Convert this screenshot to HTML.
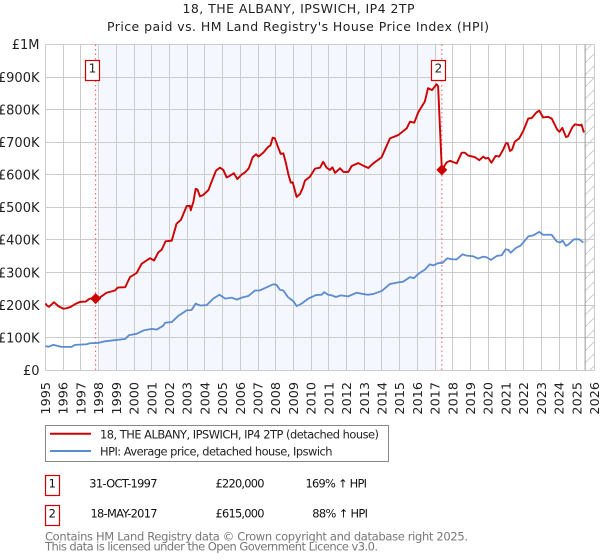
<!DOCTYPE html>
<html lang="en">
<head>
<meta charset="utf-8">
<title>18, THE ALBANY, IPSWICH, IP4 2TP</title>
<style>
html,body{margin:0;padding:0;background:#fff;}
svg{display:block;font-family:"DejaVu Sans","Liberation Sans",sans-serif;}
</style>
</head>
<body>
<svg id="chart" xmlns="http://www.w3.org/2000/svg" width="600" height="560" viewBox="0 0 600 560">
  <defs>
    <pattern id="hatch" patternUnits="userSpaceOnUse" width="12" height="12">
      <path d="M-1 13 L13 -1" stroke="#ccc" stroke-width="1" fill="none"/>
    </pattern>
  </defs>
  <rect width="600" height="560" fill="#fff"/>
  <text x="298.5" y="13" text-anchor="middle" font-size="12.5" fill="#222" textLength="232" lengthAdjust="spacing">18, THE ALBANY, IPSWICH, IP4 2TP</text>
  <text x="298" y="31" text-anchor="middle" font-size="12.5" fill="#222" textLength="382" lengthAdjust="spacing">Price paid vs. HM Land Registry's House Price Index (HPI)</text>

  <g id="back"></g>
  <g id="grid"></g>
  <g id="axes"></g>
  <g id="series"></g>
  <g id="markers"></g>

  <g>
    <rect x="45.5" y="425.5" width="343" height="36" fill="#fff" stroke="#888" stroke-width="1"/>
    <line x1="50" x2="91" y1="433.7" y2="433.7" stroke="#cc0000" stroke-width="2"/>
    <text x="100" y="438.5" font-size="11.4" fill="#222" textLength="279" lengthAdjust="spacing">18, THE ALBANY, IPSWICH, IP4 2TP (detached house)</text>
    <line x1="50" x2="91" y1="451" y2="451" stroke="#5b8bd0" stroke-width="2"/>
    <text x="100" y="455.5" font-size="11.4" fill="#222" textLength="232.5" lengthAdjust="spacing">HPI: Average price, detached house, Ipswich</text>
  </g>

  <g font-size="11.4" fill="#111">
    <rect x="45.5" y="475.5" width="14" height="20" fill="#fff" stroke="#cc0000" stroke-width="1.2"/>
    <text x="52.3" y="487.5" text-anchor="middle">1</text>
    <text x="89.3" y="487.5" textLength="68.2" lengthAdjust="spacing">31-OCT-1997</text>
    <text x="215.5" y="487.5" textLength="49" lengthAdjust="spacing">£220,000</text>
    <text x="305.5" y="487.5" textLength="61.5" lengthAdjust="spacing">169% ↑ HPI</text>
  </g>
  <g font-size="11.4" fill="#111">
    <rect x="45.5" y="505.5" width="14" height="20" fill="#fff" stroke="#cc0000" stroke-width="1.2"/>
    <text x="52.3" y="517.5" text-anchor="middle">2</text>
    <text x="90.5" y="517.5" textLength="67" lengthAdjust="spacing">18-MAY-2017</text>
    <text x="215.5" y="517.5" textLength="49" lengthAdjust="spacing">£615,000</text>
    <text x="312.3" y="517.5" textLength="55.7" lengthAdjust="spacing">88% ↑ HPI</text>
  </g>

  <text x="45" y="540.5" font-size="11.5" fill="#777" textLength="423" lengthAdjust="spacing">Contains HM Land Registry data © Crown copyright and database right 2025.</text>
  <text x="45" y="550.5" font-size="11.5" fill="#777" textLength="333" lengthAdjust="spacing">This data is licensed under the Open Government Licence v3.0.</text>
</svg>
<script>
const yearTicks = [1995,1996,1997,1998,1999,2000,2001,2002,2003,2004,2005,2006,2007,2008,2009,2010,2011,2012,2013,2014,2015,2016,2017,2018,2019,2020,2021,2022,2023,2024,2025,2026];
const priceTicks = [0,100,200,300,400,500,600,700,800,900,1000];
const priceTickLabels = ["£0","£100K","£200K","£300K","£400K","£500K","£600K","£700K","£800K","£900K","£1M"];

const priceDates = [1995,1995.1,1995.2,1995.48,1995.72,1996,1996.15,1996.4,1996.67,1996.95,1997.27,1997.5,1997.83,1998.08,1998.45,1998.92,1999.08,1999.5,1999.77,2000.15,2000.43,2000.9,2001.13,2001.37,2001.56,2001.78,2002.13,2002.4,2002.65,2002.97,2003.16,2003.2,2003.35,2003.48,2003.58,2003.72,2003.9,2004.2,2004.38,2004.63,2004.85,2005.04,2005.23,2005.38,2005.64,2005.83,2006.08,2006.26,2006.48,2006.7,2006.89,2007.02,2007.3,2007.58,2007.7,2007.83,2007.95,2008.09,2008.28,2008.43,2008.58,2008.72,2008.85,2008.96,2009.18,2009.37,2009.52,2009.65,2009.93,2010.22,2010.5,2010.68,2010.87,2011.06,2011.2,2011.35,2011.63,2011.82,2012.1,2012.29,2012.66,2012.95,2013.23,2013.5,2013.98,2014.45,2014.92,2015.4,2015.58,2015.82,2016.05,2016.42,2016.6,2016.83,2017.08,2017.17,2017.38,2017.65,2017.84,2018.03,2018.22,2018.5,2018.68,2018.87,2019.25,2019.5,2019.72,2019.85,2020,2020.18,2020.42,2020.62,2020.85,2021,2021.1,2021.23,2021.35,2021.5,2021.75,2021.98,2022.26,2022.45,2022.73,2022.88,2023.1,2023.38,2023.58,2023.9,2024.02,2024.18,2024.39,2024.5,2024.75,2024.9,2025.18,2025.27,2025.4];
const priceValues = [205,198,195,209,197,189,190,194,203,210,211,220,220,224,238,245,254,255,286,299,327,344,337,362,370,396,398,450,462,504,505,491,517,557,555,534,538,553,579,613,622,615,592,596,605,587,601,607,620,654,663,656,668,686,690,714,712,691,664,666,635,600,576,577,532,541,559,582,594,619,622,640,622,615,623,606,620,609,609,627,636,628,621,635,654,712,722,743,763,760,792,825,866,860,878,872,615,638,643,639,635,668,668,659,654,645,656,650,652,637,658,656,678,697,697,673,678,702,712,735,773,774,792,797,776,778,773,738,732,744,716,718,746,755,752,754,730];

const hpiDates = [1995,1995.15,1995.44,1995.9,1996.48,1996.67,1997.33,1997.5,1997.98,1998.36,1998.83,1999.5,1999.72,2000.15,2000.52,2001,2001.28,2001.65,2001.75,2002.13,2002.5,2002.97,2003.25,2003.48,2003.72,2004.1,2004.47,2004.82,2005.15,2005.52,2005.8,2006.08,2006.45,2006.83,2007.1,2007.5,2007.86,2008.05,2008.24,2008.43,2008.7,2009,2009.18,2009.47,2009.84,2010.27,2010.6,2010.73,2010.96,2011.17,2011.4,2011.67,2012.1,2012.57,2012.95,2013.2,2013.5,2014,2014.45,2014.92,2015.2,2015.58,2015.8,2016.05,2016.42,2016.7,2016.9,2017.18,2017.43,2017.68,2017.93,2018.2,2018.55,2018.77,2019.15,2019.43,2019.72,2019.9,2020.15,2020.48,2020.76,2020.98,2021.13,2021.27,2021.55,2021.83,2022.26,2022.54,2022.88,2023.1,2023.58,2023.86,2024.05,2024.2,2024.38,2024.52,2024.84,2025.14,2025.37];
const hpiValues = [75,72,78,72,72,78,80,83,84,89,92,96,108,112,122,127,125,137,146,148,167,184,185,205,199,200,220,232,220,223,217,223,228,245,245,255,264,262,247,245,224,212,197,205,220,231,232,240,232,230,225,230,227,238,234,232,234,244,265,270,272,286,283,296,309,325,322,329,330,344,341,340,356,352,350,343,349,347,339,351,353,371,370,361,375,383,411,414,425,416,416,396,392,398,382,386,402,402,392];

const saleDates = [1997.83,2017.38];
const salePrices = [220,615];
const saleLabels = ["1","2"];

const SVG_NS = "http://www.w3.org/2000/svg";
const xScale = function (t) { return 45.5 + (t - 1995) * 549 / 31; };
const yScale = function (v) { return 370.3 - v * 0.3258; };
const snap = function (p) { return Math.round(p) + 0.5; };
function mk(tag, parent, attrs) {
  const el = document.createElementNS(SVG_NS, tag);
  for (const k in attrs) el.setAttribute(k, attrs[k]);
  parent.appendChild(el);
  return el;
}
const back = document.getElementById("back");
const grid = document.getElementById("grid");
const axes = document.getElementById("axes");
const series = document.getElementById("series");
const markers = document.getElementById("markers");

const plotL = xScale(1995), plotR = xScale(2026), plotT = yScale(1000), plotB = yScale(0);
const xA = xScale(saleDates[0]), xB = xScale(saleDates[1]);

const shadeFringeL = mk("rect", back, {x: xA, y: plotT, width: 4, height: plotB - plotT, fill: "#fafbff"});


const shadeFringeR = mk("rect", back, {x: xB - 4, y: plotT, width: 4, height: plotB - plotT, fill: "#fafbff"});


const shade = mk("rect", back, {x: xA + 4, y: plotT, width: xB - xA - 8, height: plotB - plotT, fill: "#f4f7fe"});



yearTicks.forEach(function (yr) {
  const px = snap(xScale(yr) - 0.5);
  const line = mk("line", grid, {x1: px, x2: px, y1: plotT, y2: plotB, stroke: "#ccc", "stroke-width": 1});
  
  
  const label = mk("text", axes, {transform: "translate(" + (xScale(yr) + 4.5) + ",382) rotate(-90)", "text-anchor": "end", "font-size": 12.8, fill: "#222"});
  label.textContent = yr;
  
  
});
priceTicks.forEach(function (v, i) {
  const py = snap(yScale(v) - 0.5);
  const line = mk("line", grid, {x1: plotL, x2: plotR, y1: py, y2: py, stroke: "#ccc", "stroke-width": 1});
  
  
  const label = mk("text", axes, {x: 39.5, y: yScale(v) + 4.7, "text-anchor": "end", "font-size": 13, fill: "#222"});
  label.textContent = priceTickLabels[i];
  
  
});

const forecastStart = 2025.47;
const hatchRect = mk("rect", back, {x: xScale(forecastStart), y: plotT, width: plotR - xScale(forecastStart), height: plotB - plotT, fill: "url(#hatch)"});


const hatchEdge = mk("line", grid, {x1: xScale(forecastStart), x2: xScale(forecastStart), y1: plotT, y2: plotB, stroke: "#999", "stroke-width": 1});



function pathOf(dates, values) {
  return dates.map(function (d, i) {
    return (i ? "L" : "M") + xScale(d).toFixed(2) + " " + yScale(values[i]).toFixed(2);
  }).join(" ");
}
saleDates.forEach(function (d, i) {
  const px = xScale(d);
  const drop = mk("line", series, {x1: px, x2: px, y1: plotT, y2: plotB, stroke: "#ff5555", "stroke-width": 1, "stroke-dasharray": "1.5 3"});
  
  
});
const hpiLine = mk("path", series, {d: pathOf(hpiDates, hpiValues), fill: "none", stroke: "#5b8bd0", "stroke-width": 1.8, "stroke-linejoin": "round"});


const priceLine = mk("path", series, {d: pathOf(priceDates, priceValues), fill: "none", stroke: "#cc0000", "stroke-width": 1.9, "stroke-linejoin": "round"});



saleDates.forEach(function (d, i) {
  const px = xScale(d), py = yScale(salePrices[i]);
  const dot = mk("path", markers, {d: "M" + px + " " + (py - 5.5) + " L" + (px + 5.5) + " " + py + " L" + px + " " + (py + 5.5) + " L" + (px - 5.5) + " " + py + " Z", fill: "#cc0000"});
  
  
  const bx = Math.round(px) - 10.5;
  const box = mk("rect", markers, {x: bx, y: 60.5, width: 14, height: 20, fill: "#fff", stroke: "#cc0000", "stroke-width": 1.2});
  
  
  const num = mk("text", markers, {x: bx + 7, y: 72.5, "text-anchor": "middle", "font-size": 12, fill: "#222"});
  num.textContent = saleLabels[i];
  
  
});
</script>
</body>
</html>
